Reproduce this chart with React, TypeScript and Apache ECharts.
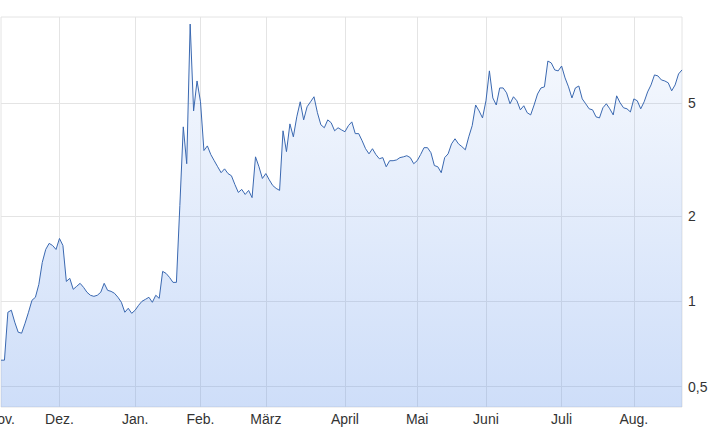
import React, { useEffect, useRef } from "react";
import * as echarts from "echarts";

const monthLabels = ["Nov.", "Dez.", "Jan.", "Feb.", "März", "April", "Mai", "Juni", "Juli", "Aug."];
const tradingDaysPerMonth = [17, 22, 19, 19, 23, 21, 20, 22, 21, 15];
const yTickValues = [0.5, 1, 2, 5];
const yRange = [0.424, 10.05];

const prices = [
  0.62, 0.62, 0.915, 0.93, 0.844, 0.778, 0.772, 0.837, 0.915, 1.008,
  1.033, 1.147, 1.371, 1.523, 1.6, 1.573, 1.523, 1.665, 1.573, 1.175,
  1.205, 1.102, 1.129, 1.157, 1.12, 1.076, 1.05, 1.041, 1.05, 1.076,
  1.157, 1.093, 1.084, 1.067, 1.033, 0.992, 0.915, 0.945, 0.907, 0.93,
  0.968, 1.0, 1.016, 1.033, 0.992, 1.05, 1.024, 1.275, 1.254, 1.214,
  1.166, 1.166, 2.175, 4.12, 3.055, 9.49, 4.69, 5.98, 5.05, 3.4,
  3.53, 3.29, 3.13, 2.98, 2.84, 2.93, 2.82, 2.77, 2.58, 2.42,
  2.48, 2.38, 2.46, 2.32, 3.23, 2.98, 2.71, 2.82, 2.68, 2.56,
  2.5, 2.46, 3.99, 3.37, 4.22, 3.8, 4.47, 5.05, 4.36, 4.85,
  5.05, 5.26, 4.62, 4.19, 4.09, 4.36, 4.26, 3.99, 4.09, 4.02,
  3.96, 4.16, 4.29, 3.9, 3.9, 3.68, 3.45, 3.31, 3.45, 3.29,
  3.18, 3.21, 2.98, 3.13, 3.13, 3.15, 3.21, 3.23, 3.26, 3.21,
  3.055, 3.13, 3.29, 3.48, 3.48, 3.34, 3.01, 2.98, 2.84, 3.21,
  3.31, 3.59, 3.74, 3.59, 3.51, 3.42, 3.8, 4.16, 4.92, 4.69,
  4.43, 5.09, 6.49, 5.21, 4.92, 5.65, 5.65, 5.43, 4.97, 5.26,
  5.09, 4.73, 4.89, 4.62, 4.54, 4.92, 5.38, 5.65, 5.7, 7.03,
  6.92, 6.54, 6.49, 6.75, 6.13, 5.7, 5.21, 5.65, 5.74, 5.17,
  4.97, 4.77, 4.73, 4.47, 4.43, 4.81, 4.97, 4.77, 4.54, 5.3,
  5.01, 4.81, 4.77, 4.65, 5.17, 5.09, 4.77, 5.05, 5.47, 5.79,
  6.28, 6.23, 6.03, 5.98, 5.89, 5.52, 5.79, 6.33, 6.54,
];

export default function App() {
  const ref = useRef<HTMLDivElement>(null);

  useEffect(() => {
    if (!ref.current) return;
    const chart = echarts.init(ref.current, undefined, { renderer: "svg" });

    const monthStarts: number[] = [];
    let acc = 0;
    tradingDaysPerMonth.forEach((d) => {
      monthStarts.push(acc);
      acc += d;
    });
    const lastIndex = prices.length - 1;
    const data = prices.map((p, i) => [i, Math.log10(p)]);
    const yTicksLog = yTickValues.map((v) => Math.log10(v));

    chart.setOption({
      animation: false,
      grid: {
        left: 1,
        right: 36,
        top: 17,
        bottom: 24,
        containLabel: false,
        outerBoundsMode: "none",
        show: true,
        borderColor: "#e4e4e4",
        borderWidth: 1,
      },
      xAxis: {
        type: "value",
        min: 0,
        max: lastIndex,
        axisLine: { show: false },
        axisTick: { show: false, customValues: monthStarts.slice(1) },
        splitLine: { show: true, lineStyle: { color: "#e4e4e4", width: 1 } },
        axisLabel: {
          customValues: monthStarts,
          formatter: (val: number) => {
            const idx = monthStarts.indexOf(Math.round(val));
            return idx >= 0 ? monthLabels[idx] : "";
          },
          color: "#333",
          fontSize: 14,
          fontFamily: "Liberation Sans, Arial, sans-serif",
          margin: 5,
        },
      },
      yAxis: {
        type: "value",
        position: "right",
        min: Math.log10(yRange[0]),
        max: Math.log10(yRange[1]),
        axisLine: { show: false },
        axisTick: { show: false, customValues: yTicksLog },
        splitLine: { show: true, lineStyle: { color: "#e4e4e4", width: 1 } },
        axisLabel: {
          customValues: yTicksLog,
          formatter: (val: number) => {
            const v = Math.round(Math.pow(10, val) * 100) / 100;
            return String(v).replace(".", ",");
          },
          color: "#333",
          fontSize: 14,
          fontFamily: "Liberation Sans, Arial, sans-serif",
          margin: 6,
        },
      },
      series: [
        {
          type: "line",
          data,
          showSymbol: false,
          symbol: "none",
          lineStyle: { color: "#3a68b0", width: 1 },
          areaStyle: {
            origin: "start",
            color: new echarts.graphic.LinearGradient(0, 0, 0, 1, [
              { offset: 0, color: "rgba(100,150,235,0.07)" },
              { offset: 1, color: "rgba(100,150,235,0.45)" },
            ]),
          },
        },
      ],
    });

    return () => chart.dispose();
  }, []);

  return (
    <div
      ref={ref}
      style={{ position: "absolute", left: 0, top: 0, width: 718, height: 431 }}
    />
  );
}
